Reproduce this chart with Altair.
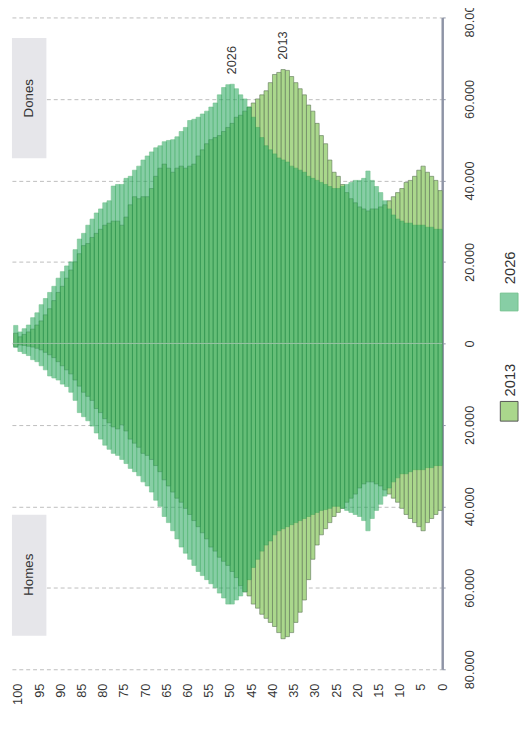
import altair as alt
import pandas as pd

# ---------------- data (thousands of people) ----------------
ages = list(range(0, 101))
age_ticks = list(range(0, 101, 5))
value_ticks = list(range(-80000, 80001, 20000))

dones_2013 = [
    37.5, 40, 41, 42, 43.5, 42.5, 41, 40, 39.5, 38,
    37, 36, 35, 34, 33.5, 33, 33, 32.5, 33, 33.5,
    34.5, 35.5, 37, 39, 41, 42, 45, 49, 51, 54,
    57, 58.5, 61, 62.5, 64, 65.5, 67, 67.2, 66.5, 66,
    64, 62, 61, 60, 59, 58, 57, 56, 55.5, 54,
    53, 52, 51, 50.5, 50, 49, 47.5, 46, 44, 43.5,
    43, 43.5, 43, 42, 43, 44, 43, 41, 38, 36,
    36, 35.5, 36, 34, 31, 29, 30, 30, 29.5, 29,
    28, 27, 26, 24.5, 24, 22, 20, 18, 16, 14,
    12.5, 10.5, 8.5, 7, 5.5, 4.5, 3.5, 2.8, 2.2, 1.6, 2.5,
]
dones_2026 = [
    28, 28, 28.5, 28.5, 29, 29, 29, 29.5, 29.5, 30,
    30.5, 31.5, 33, 35, 37, 38.5, 40, 42.3, 40.5, 40,
    40, 39.5, 39, 38.5, 38, 38, 38.5, 39, 39.5, 40,
    40.5, 41, 42, 42.5, 43, 43.5, 44.5, 45, 45.5, 46.5,
    47.5, 48.5, 50.5, 53, 55.5, 58, 60, 61, 62.5, 63.6,
    63.5, 62.8, 61, 59, 58, 57, 56.3, 55.5, 55, 54.7,
    53, 52, 50.7, 50, 49.8, 49.5, 48.5, 48, 47, 46,
    45, 43.5, 42.5, 41, 40.5, 39, 39, 38.6, 35, 34.5,
    33, 32, 30.5, 29, 27, 25.6, 23, 20, 19, 17.6,
    16, 14, 12.5, 11, 9.5, 7.5, 6.3, 4.5, 3.6, 2.8, 4.4,
]
homes_2013 = [
    41, 42, 43, 44, 46, 45, 44, 43, 42, 40.5,
    39, 38, 37, 36, 35, 34.5, 34, 34, 34.5, 35.5,
    37, 38, 39, 40.5, 41.5, 42.5, 44, 45.5, 47, 49.5,
    53, 58, 63, 66, 68.5, 71, 72, 72.5, 71, 69.5,
    68.5, 67.5, 66.5, 65, 64, 62, 61, 59.5, 57.5, 56,
    54.5, 53.5, 52.5, 51, 50, 48, 46.5, 45, 43.5, 42,
    40.5, 39, 38, 36.5, 35, 33.5, 31.5, 30, 28.5, 27.5,
    27, 25.5, 24.5, 23.5, 21.5, 20, 21, 20.5, 19.5, 18.5,
    17, 16, 14, 13, 12, 10.5, 9, 7.5, 6.5, 5.5,
    4.5, 3.5, 2.8, 2.2, 1.6, 1.2, 0.9, 0.7, 0.5, 0.4, 0.8,
]
homes_2026 = [
    30, 30, 30.5, 30.5, 31, 31, 31, 31.5, 32, 32,
    33, 34, 35.5, 37.5, 39.5, 41, 43, 46, 43.5, 42.5,
    42, 41.5, 41, 40.5, 40, 40, 40.5, 40.8, 41, 41.5,
    42, 42.5, 43, 43.5, 44, 44.5, 45, 45.5, 46, 47,
    48.5, 49.5, 51, 53, 55, 58, 61, 62, 63, 64,
    64, 62.5, 61.3, 60, 59, 58, 57, 56, 54.5, 53,
    51.5, 50, 48, 46, 44, 42.5, 40, 38.5, 36.5, 35,
    34, 32.5, 31.5, 30.7, 29.5, 28.5, 27.5, 27, 26, 25,
    23.5, 22, 20.3, 19, 18, 17, 14, 12, 10.6, 10,
    9, 8.5, 8, 6.5, 5.5, 4.5, 4, 3, 2.5, 2, 1,
]

series = [
    ("2013", "Dones", dones_2013, 1),
    ("2013", "Homes", homes_2013, -1),
    ("2026", "Dones", dones_2026, 1),
    ("2026", "Homes", homes_2026, -1),
]
frames = []
for year, sex, vals, sign in series:
    frames.append(pd.DataFrame({
        "age": ages,
        "age_end": [a + 1 for a in ages],
        "value": [sign * v * 1000 for v in vals],
        "zero": [0] * len(ages),
        "sex": sex,
        "year": year,
    }))
df = pd.concat(frames, ignore_index=True)

# peak labels (placed at each year's female peak)
peak_rows = []
for year, vals in [("2026", dones_2026), ("2013", dones_2013)]:
    i = max(range(len(vals)), key=lambda k: vals[k])
    peak_rows.append({"label": year, "age": ages[i] + 0.5, "value": vals[i] * 1000})
peaks = pd.DataFrame(peak_rows)

# ---------------- style ----------------
FONT = "Liberation Sans"
C13 = "#aad78c"
S13 = "#5d7556"
C26 = "#38ae6a"
S26 = "#179a44"
OP26 = 0.6

x_scale = alt.Scale(domain=[0, 101.4], reverse=True, nice=False, zero=False)
y_scale = alt.Scale(domain=[-80000, 80000], nice=False)

x_axis = alt.Axis(values=age_ticks, labelAngle=270, labelAlign="right",
                  labelBaseline="middle", labelPadding=14, domain=False,
                  ticks=False, tickSize=0, grid=False, labelFlush=False,
                  labelOverlap=False, labelFontSize=13, labelColor="#333333",
                  labelFont=FONT, title=None)
y_axis = alt.Axis(orient="right", values=value_ticks,
                  labelExpr="replace(format(abs(datum.value), ',d'), ',', '.')",
                  labelAngle=270, labelAlign="center", labelBaseline="top",
                  labelPadding=19, labelFlush=False, labelOverlap=False,
                  tickSize=3, tickColor="#8e94a6", domainColor="#8e94a6",
                  domainWidth=2.5, grid=True, gridDash=[4, 3],
                  gridColor="#bdbdbd", gridWidth=1, labelFontSize=13,
                  labelColor="#333333", labelFont=FONT, title=None)

X = alt.X("age:Q", scale=x_scale, axis=x_axis)
Y = alt.Y("value:Q", scale=y_scale, axis=y_axis)

base = alt.Chart(df)
bars13 = base.transform_filter(alt.datum.year == "2013").mark_rect(
    fill=C13, stroke=S13, strokeWidth=0.6
).encode(x=X, x2="age_end:Q", y=Y, y2="zero:Q")

bars26 = base.transform_filter(alt.datum.year == "2026").mark_rect(
    fill=C26, stroke=S26, strokeWidth=0.6, opacity=OP26
).encode(x=X, x2="age_end:Q", y=Y, y2="zero:Q")

zero_line = alt.Chart(pd.DataFrame({"value": [0]})).mark_rule(
    color="#d6ded6", strokeWidth=1, opacity=0.7
).encode(y=Y)

peak_text = alt.Chart(peaks).mark_text(
    angle=270, align="left", baseline="middle", dx=10, fontSize=13,
    font=FONT, color="#333333"
).encode(x=X, y=Y, text="label:N")

dummy = pd.DataFrame({"k": [0]})
box_dones = alt.Chart(dummy).mark_rect(fill="#e6e6ea").encode(
    x=alt.value(0), x2=alt.value(35), y=alt.value(21), y2=alt.value(143))
box_homes = alt.Chart(dummy).mark_rect(fill="#e6e6ea").encode(
    x=alt.value(0), x2=alt.value(35), y=alt.value(505), y2=alt.value(628))
txt_dones = alt.Chart(dummy).mark_text(
    text="Dones", angle=270, align="center", baseline="middle",
    fontSize=13.5, font=FONT, color="#333333"
).encode(x=alt.value(17.5), y=alt.value(82))
txt_homes = alt.Chart(dummy).mark_text(
    text="Homes", angle=270, align="center", baseline="middle",
    fontSize=13.5, font=FONT, color="#333333"
).encode(x=alt.value(17.5), y=alt.value(566))

# manual legend (rotated like the rest of the figure)
leg13 = alt.Chart(dummy).mark_rect(fill=C13, stroke="#555555", strokeWidth=1).encode(
    x=alt.value(496), x2=alt.value(514), y=alt.value(390), y2=alt.value(410))
leg26 = alt.Chart(dummy).mark_rect(fill=C26, opacity=OP26, stroke=S26, strokeWidth=1).encode(
    x=alt.value(496), x2=alt.value(514), y=alt.value(280), y2=alt.value(298))
legt13 = alt.Chart(dummy).mark_text(
    text="2013", angle=270, align="left", baseline="middle", fontSize=15,
    font=FONT, color="#333333"
).encode(x=alt.value(506), y=alt.value(385))
legt26 = alt.Chart(dummy).mark_text(
    text="2026", angle=270, align="left", baseline="middle", fontSize=15,
    font=FONT, color="#333333"
).encode(x=alt.value(506), y=alt.value(271))

chart = alt.layer(
    bars13, bars26, zero_line, peak_text,
    box_dones, box_homes, txt_dones, txt_homes,
    leg13, leg26, legt13, legt26,
).properties(
    width=437, height=662,
    autosize=alt.AutoSizeParams(type="none"),
    padding={"left": 4, "top": 4, "right": 79, "bottom": 50},
).configure_view(stroke=None)

chart.save("out.html", embed_options={"renderer": "svg", "actions": False})
